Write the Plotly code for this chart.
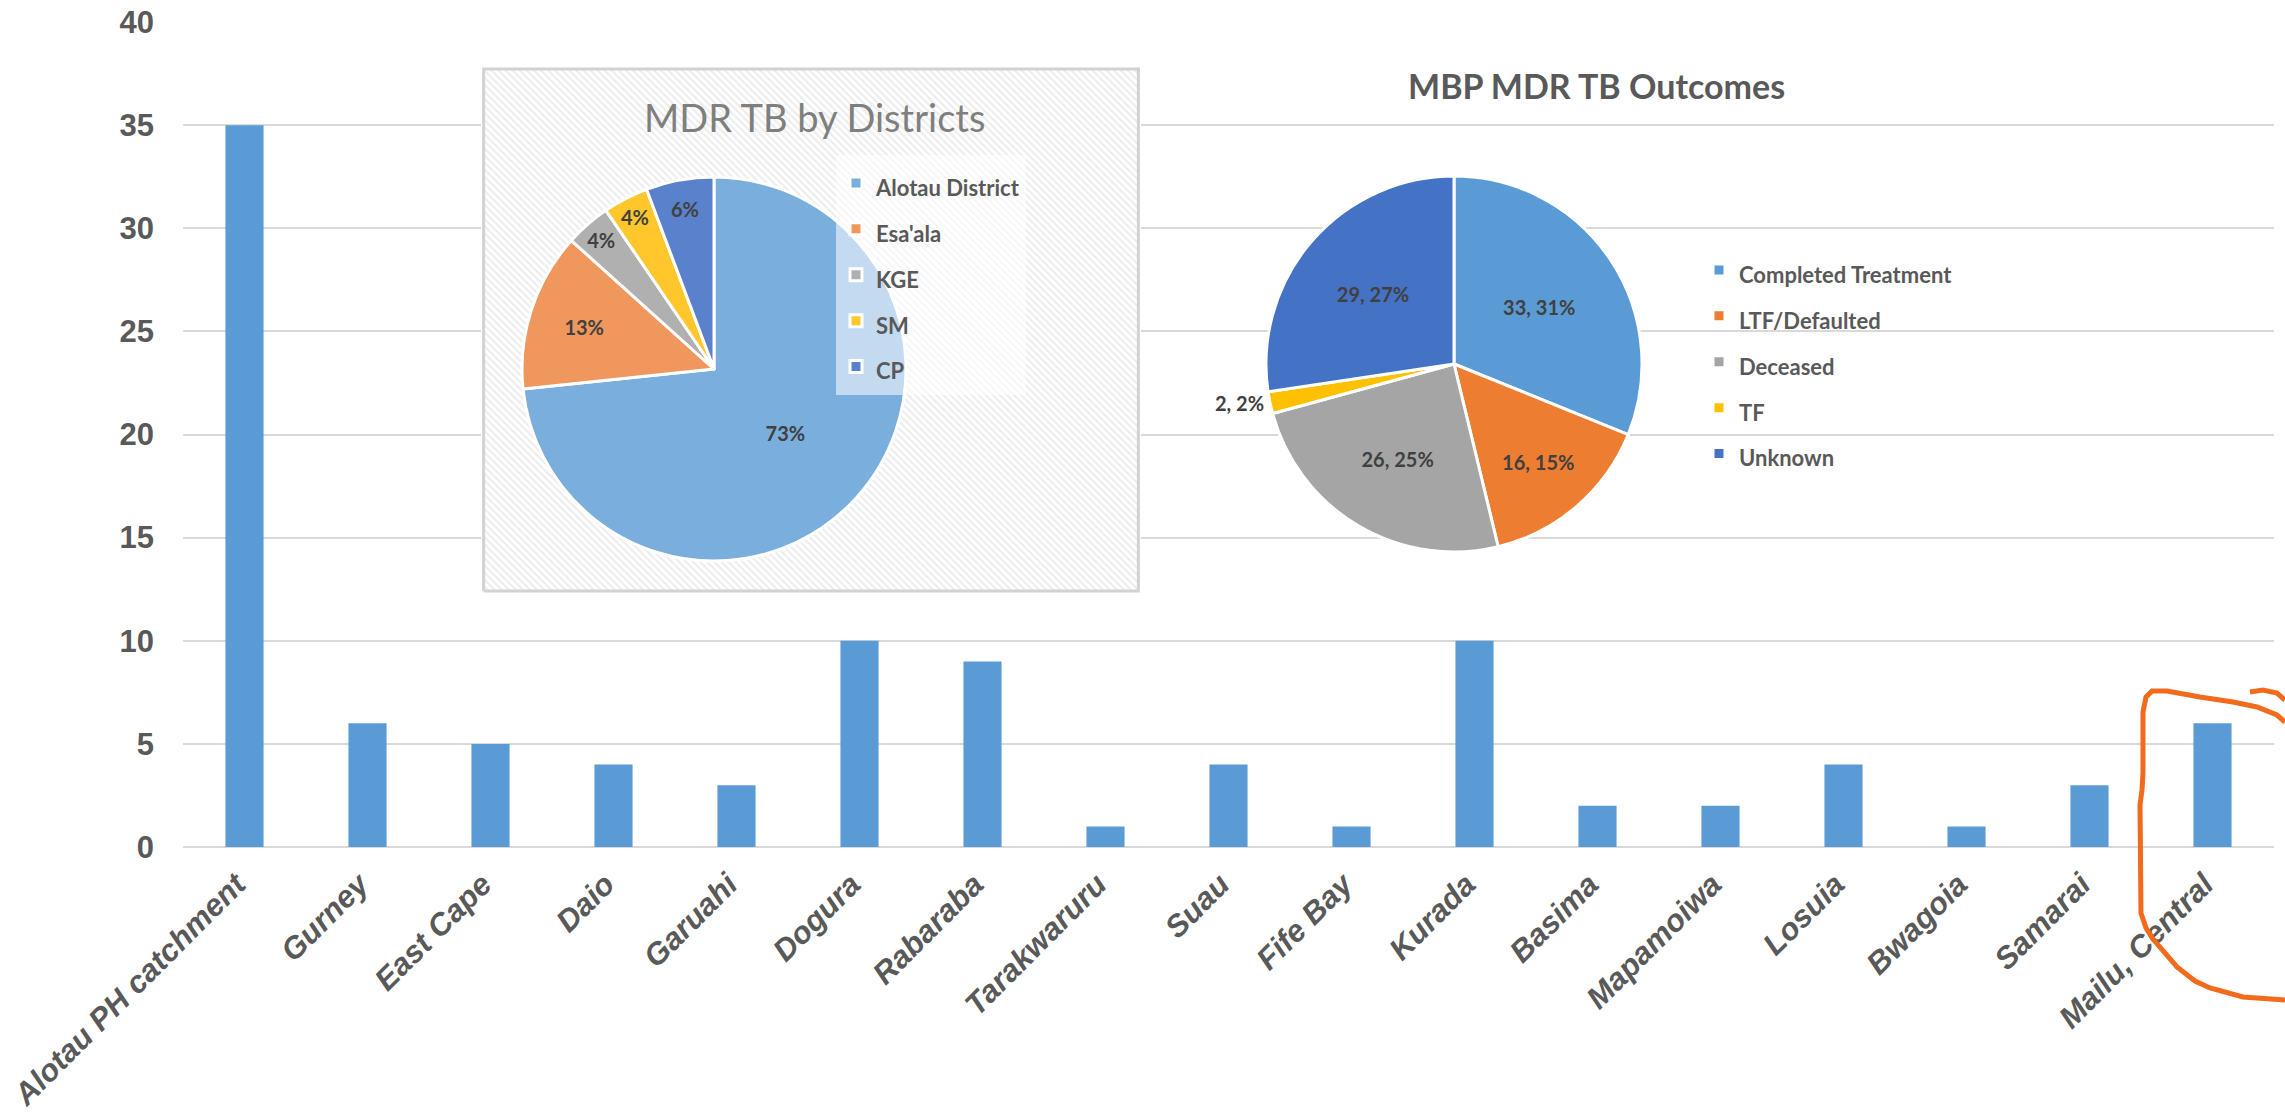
import plotly.graph_objects as go

# ---------------- data ----------------
sites = ["Alotau PH catchment", "Gurney", "East Cape", "Daio", "Garuahi", "Dogura",
         "Rabaraba", "Tarakwaruru", "Suau", "Fife Bay", "Kurada", "Basima",
         "Mapamoiwa", "Losuia", "Bwagoia", "Samarai", "Mailu, Central"]
cases = [35, 6, 5, 4, 3, 10, 9, 1, 4, 1, 10, 2, 2, 4, 1, 3, 6]
y_tick_values = [0, 5, 10, 15, 20, 25, 30, 35, 40]

districts = ["Alotau District", "Esa'ala", "KGE", "SM", "CP"]
district_cases = [77, 14, 4, 4, 6]

outcomes = ["Completed Treatment", "LTF/Defaulted", "Deceased", "TF", "Unknown"]
outcome_counts = [33, 16, 26, 2, 29]

title_districts = "MDR TB by Districts"
title_outcomes = "MBP MDR TB Outcomes"

# ---------------- layout helpers ----------------
W, H = 2285, 1117
ML, MR, MT, MB = 183, 11, 22, 270
PW, PH = W - ML - MR, H - MT - MB


def fx(px):
    return (px - ML) / PW


def fy(py):
    return (H - MB - py) / PH


GRAY_TXT = "#595959"
GRID = "#d9d9d9"

fig = go.Figure()

# main bar chart
fig.add_trace(go.Bar(
    x=sites, y=cases, marker=dict(color="#5b9bd5", line=dict(width=0)),
    showlegend=False, xaxis="x", yaxis="y",
))

# hatched panel behind the district pie (on its own subplot so it covers the grid)
fig.add_trace(go.Scatter(
    x=[0, 1, 1, 0, 0], y=[0, 0, 1, 1, 0], mode="lines", fill="toself",
    fillcolor="white",
    fillpattern=dict(shape="\\", fgcolor="#dcdcdc", bgcolor="white", size=5, solidity=0.45),
    line=dict(color="#d2d2d2", width=3), hoverinfo="skip", showlegend=False,
    xaxis="x2", yaxis="y2",
))

# pie 1 : districts
pie1_colors = ["#7aaedd", "#f0975d", "#b0b0b0", "#ffc72c", "#5a82cc"]
pc1x, pc1y, r1 = 714, 369, 192
fig.add_trace(go.Pie(
    labels=[f"<span style='font-size:22px'>{d}</span>" for d in districts],
    values=district_cases,
    sort=False, direction="clockwise", rotation=0,
    marker=dict(colors=pie1_colors, line=dict(color="white", width=3)),
    texttemplate="%{percent:.0%}", textposition="inside",
    insidetextorientation="horizontal",
    textfont=dict(family="Lato", size=20, color="#404040", weight="bold"),
    domain=dict(x=[fx(pc1x - r1), fx(pc1x + r1)], y=[fy(pc1y + r1), fy(pc1y - r1)]),
    legend="legend", hoverinfo="label+value+percent",
))

# pie 2 : outcomes
pie2_colors = ["#5b9bd5", "#ed7d31", "#a5a5a5", "#ffc000", "#4472c4"]
pc2x, pc2y, r2 = 1454, 364, 188
fig.add_trace(go.Pie(
    labels=[f"<span style='font-size:22px'>{o}</span>" for o in outcomes],
    values=outcome_counts,
    sort=False, direction="clockwise", rotation=0,
    marker=dict(colors=pie2_colors, line=dict(color="white", width=3)),
    texttemplate="%{value}, %{percent:.0%}",
    textposition=["inside", "inside", "inside", "outside", "inside"],
    insidetextorientation="horizontal",
    textfont=dict(family="Lato", size=20, color="#404040", weight="bold"),
    domain=dict(x=[fx(pc2x - r2), fx(pc2x + r2)], y=[fy(pc2y + r2), fy(pc2y - r2)]),
    legend="legend2", hoverinfo="label+value+percent",
))

tick_font = dict(family="Liberation Sans", size=31, color=GRAY_TXT, weight="bold")

# hand-drawn orange highlight around the last category
stroke_main = [(2285, 722), (2277, 715), (2257, 707), (2233, 702), (2200, 697), (2167, 691),
               (2152, 691), (2146, 697), (2143, 712), (2143, 773), (2142, 790), (2140, 805),
               (2141, 913), (2146, 928), (2153, 939), (2177, 967), (2195, 981), (2210, 988),
               (2243, 997), (2285, 1000)]
stroke_hook = [(2250, 692), (2263, 690), (2277, 693), (2285, 700)]


def path_of(points):
    return "M " + " L ".join(f"{fx(x):.5f},{fy(y):.5f}" for x, y in points)


fig.update_layout(
    width=W, height=H,
    margin=dict(l=ML, r=MR, t=MT, b=MB, pad=0, autoexpand=False),
    paper_bgcolor="white", plot_bgcolor="white",
    bargap=0.69,
    font=dict(family="Liberation Sans", color=GRAY_TXT),
    xaxis=dict(
        domain=[0, 1], type="category", tickangle=-45, ticks="", automargin=False,
        tickfont=dict(**tick_font, style="italic"),
        ticklabelstandoff=12, ticklabelshift=-8,
        showgrid=False, showline=False, zeroline=False, fixedrange=True,
    ),
    yaxis=dict(
        domain=[0, 1], range=[0, 40], tickvals=y_tick_values, ticks="", automargin=False,
        showgrid=True, gridcolor=GRID, gridwidth=2,
        zeroline=True, zerolinecolor=GRID, zerolinewidth=2,
        showline=False, tickfont=tick_font, ticklabelstandoff=28, fixedrange=True,
    ),
    xaxis2=dict(domain=[fx(481), fx(1141)], range=[-0.004, 1.004], visible=False,
                anchor="y2", fixedrange=True, automargin=False),
    yaxis2=dict(domain=[fy(593), fy(67)], range=[-0.004, 1.004], visible=False,
                anchor="x2", fixedrange=True, automargin=False),
    legend=dict(
        x=fx(836), y=fy(155), xanchor="left", yanchor="top",
        bgcolor="rgba(255,255,255,0.55)", borderwidth=0,
        font=dict(family="Lato", size=33, color=GRAY_TXT, weight="bold"),
    ),
    legend2=dict(
        x=fx(1699), y=fy(242), xanchor="left", yanchor="top",
        bgcolor="rgba(0,0,0,0)", borderwidth=0,
        font=dict(family="Lato", size=33, color=GRAY_TXT, weight="bold"),
    ),
    uniformtext=dict(minsize=20, mode="show"),
    annotations=[
        dict(text=title_districts, x=fx(814), y=fy(117), xref="paper", yref="paper",
             xanchor="center", yanchor="middle", showarrow=False,
             font=dict(family="Lato", size=38, color="#7f7f7f")),
        dict(text=title_outcomes, x=fx(1596), y=fy(85), xref="paper", yref="paper",
             xanchor="center", yanchor="middle", showarrow=False,
             font=dict(family="Lato", size=34, color=GRAY_TXT, weight="bold")),
    ],
    shapes=[
        dict(type="path", path=path_of(stroke_main), xref="paper", yref="paper",
             line=dict(color="#f26a1b", width=5), layer="above"),
        dict(type="path", path=path_of(stroke_hook), xref="paper", yref="paper",
             line=dict(color="#f26a1b", width=5), layer="above"),
    ],
)

fig.write_html("out.html", config={"displayModeBar": False},
               post_script="document.body.style.margin='0';")
